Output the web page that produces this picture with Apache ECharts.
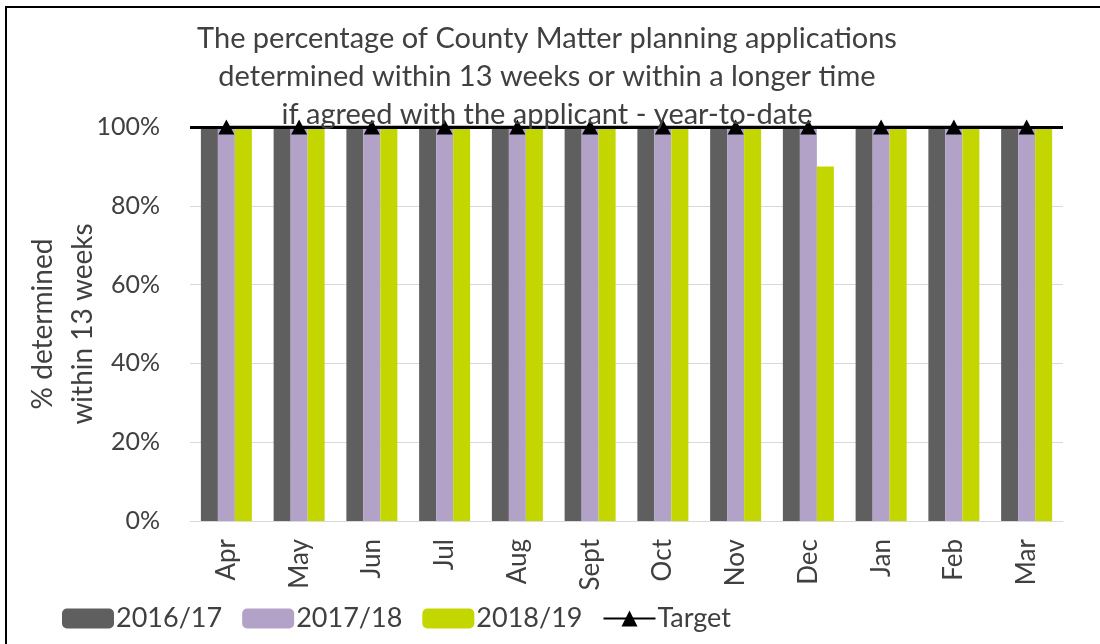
<!DOCTYPE html>
<html>
<head>
<meta charset="utf-8">
<script src="https://cdn.jsdelivr.net/npm/echarts@6/dist/echarts.min.js"></script>
<style>
    html, body { margin: 0; padding: 0; background: #fff; }
    #chart { width: 1100px; height: 644px; }
</style>
</head>
<body>
<div id="chart"></div>
<script>
/* 数据 */
var months = ['Apr', 'May', 'Jun', 'Jul', 'Aug', 'Sept', 'Oct', 'Nov', 'Dec', 'Jan', 'Feb', 'Mar'];
var year1617 = [100, 100, 100, 100, 100, 100, 100, 100, 100, 100, 100, 100];
var year1718 = [100, 100, 100, 100, 100, 100, 100, 100, 100, 100, 100, 100];
var year1819 = [100, 100, 100, 100, 100, 100, 100, 100, 90, 100, 100, 100];
var target = [100, 100, 100, 100, 100, 100, 100, 100, 100, 100, 100, 100];
var yTicks = [0, 20, 40, 60, 80, 100];

var textColor = '#404040';
var font = 'Lato';

var myChart = echarts.init(document.getElementById('chart'));
var option = {
    animation: false,
    backgroundColor: '#fff',
    graphic: [
        {
            type: 'rect',
            shape: { x: 6, y: 7, width: 1110, height: 660 },
            style: { fill: 'none', stroke: '#000', lineWidth: 2 },
            silent: true
        }
    ],
    title: {
        text: 'The percentage of County Matter planning applications\ndetermined within 13 weeks or within a longer time\nif agreed with the applicant - year-to-date',
        left: 542,
        top: 15,
        textAlign: 'center',
        textStyle: {
            color: textColor,
            fontFamily: font,
            fontWeight: 'normal',
            fontSize: 29,
            lineHeight: 38
        }
    },
    legend: {
        left: 57,
        top: 600,
        itemWidth: 52,
        itemHeight: 20,
        itemGap: 20,
        textStyle: { color: textColor, fontFamily: font, fontSize: 27, padding: [0, 0, 0, -3] },
        data: ['2016/17', '2017/18', '2018/19', 'Target']
    },
    grid: {
        left: 190,
        right: 37,
        top: 127,
        bottom: 123,
        containLabel: false,
        outerBoundsMode: 'none'
    },
    xAxis: {
        type: 'category',
        data: months,
        axisLine: { lineStyle: { color: '#d9d9d9' } },
        axisTick: { show: false },
        axisLabel: {
            rotate: 90,
            margin: 18,
            color: textColor,
            fontFamily: font,
            fontSize: 26
        }
    },
    yAxis: {
        type: 'value',
        min: yTicks[0],
        max: yTicks[yTicks.length - 1],
        interval: 20,
        name: '% determined\nwithin 13 weeks',
        nameLocation: 'middle',
        nameGap: 87,
        nameMoveOverlap: false,
        nameRotate: 90,
        nameTextStyle: { color: textColor, fontFamily: font, fontSize: 28, lineHeight: 40 },
        axisLine: { show: false },
        axisTick: { show: false },
        splitLine: { lineStyle: { color: '#d9d9d9', width: 1 } },
        axisLabel: {
            margin: 30,
            color: textColor,
            fontFamily: font,
            fontSize: 25,
            formatter: '{value}%'
        }
    },
    series: [
        {
            name: '2016/17',
            type: 'bar',
            barWidth: 17,
            barGap: '0%',
            itemStyle: { color: '#5f5f5f' },
            data: year1617
        },
        {
            name: '2017/18',
            type: 'bar',
            barWidth: 17,
            barGap: '0%',
            itemStyle: { color: '#b3a2c7' },
            data: year1718
        },
        {
            name: '2018/19',
            type: 'bar',
            barWidth: 17,
            barGap: '0%',
            itemStyle: { color: '#c3d600' },
            data: year1819
        },
        {
            name: 'Target',
            type: 'line',
            z: 5,
            symbol: 'triangle',
            symbolSize: [16, 15],
            itemStyle: { color: '#000' },
            lineStyle: { color: '#000', width: 3 },
            data: target,
            markLine: {
                silent: true,
                symbol: 'none',
                label: { show: false },
                lineStyle: { color: '#000', width: 3, type: 'solid' },
                data: [{ yAxis: target[0] }]
            }
        }
    ]
};
myChart.setOption(option);
</script>
</body>
</html>
